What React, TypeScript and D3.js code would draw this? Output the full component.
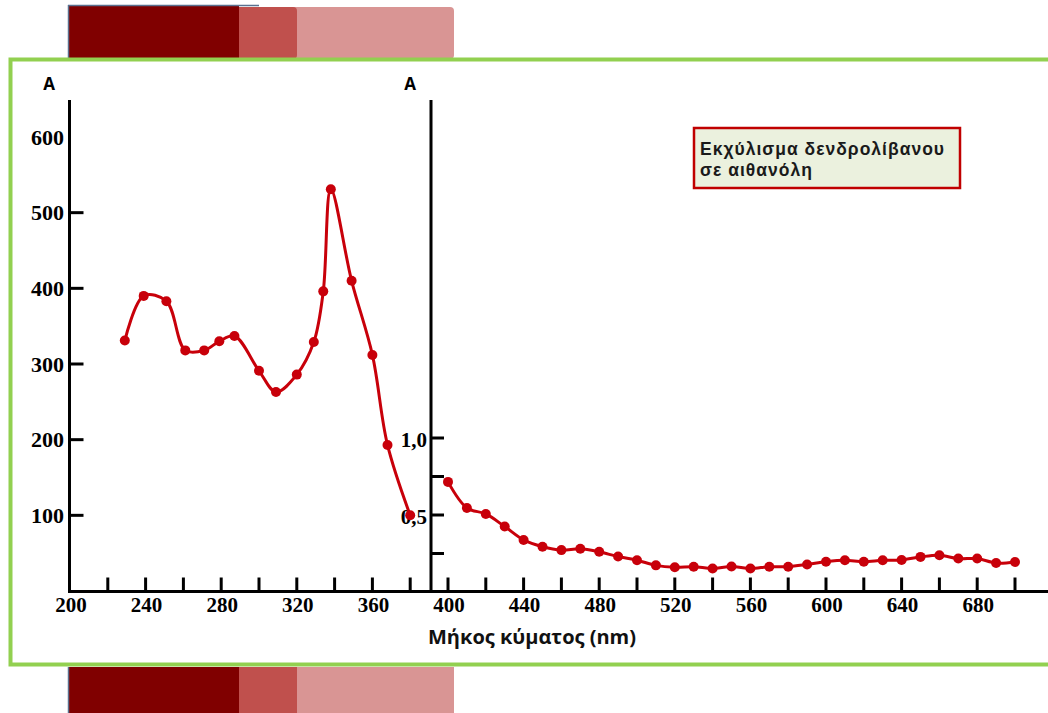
import React from "react";
import * as d3 from "d3";

const leftWavelengths = [229, 239, 251, 261, 271, 279, 287, 300, 309, 320, 329, 334, 338, 349, 360, 368, 380];
const leftValues = [331, 390, 383, 318, 318, 330, 337, 291, 263, 286, 329, 396, 531, 410, 312, 193, 100];

const rightWavelengths = [400, 410, 420, 430, 440, 450, 460, 470, 480, 490, 500, 510, 520, 530, 540, 550, 560, 570, 580, 590, 600, 610, 620, 630, 640, 650, 660, 670, 680, 690, 700];
const rightValues = [0.715, 0.546, 0.507, 0.425, 0.338, 0.294, 0.272, 0.281, 0.261, 0.23, 0.206, 0.173, 0.161, 0.164, 0.153, 0.166, 0.153, 0.164, 0.164, 0.179, 0.197, 0.206, 0.197, 0.206, 0.208, 0.228, 0.239, 0.217, 0.217, 0.188, 0.195];

const xTickLabels = [200, 240, 280, 320, 360, 400, 440, 480, 520, 560, 600, 640, 680];
const xTicksLeft = [220, 240, 260, 280, 300, 320, 340, 360, 380];
const xTicksRight = [400, 420, 440, 460, 480, 500, 520, 540, 560, 580, 600, 620, 640, 660, 680, 700];
const leftYTicks = [100, 200, 300, 400, 500];
const leftYLabels = [100, 200, 300, 400, 500, 600];
const rightYTicks = [0.25, 0.5, 0.75, 1.0];
const rightYLabels = [{ v: 1.0, t: "1,0" }, { v: 0.5, t: "0,5" }];

const legendLines = ["Εκχύλισμα δενδρολίβανου", "σε αιθανόλη"];
const xTitle = "Μήκος κύματος (nm)";

export default function App() {
  const x = d3.scaleLinear().domain([200, 700]).range([70, 1015]);
  const yL = d3.scaleLinear().domain([0, 600]).range([591, 137]);
  const yR = d3.scaleLinear().domain([0, 1]).range([592, 438]);
  const red = "#c8000a";
  const serif = "'Liberation Serif', 'Times New Roman', serif";
  const sans = "'Open Sans', 'Noto Sans', sans-serif";
  const legendFont = "'Liberation Sans', Arial, sans-serif";

  const leftPts: [number, number][] = leftWavelengths.map((w, i) => [x(w), yL(leftValues[i])]);
  const rightPts: [number, number][] = rightWavelengths.map((w, i) => [x(w), yR(rightValues[i])]);
  const line = d3.line().curve(d3.curveCatmullRom.alpha(0.5));

  const leftAxisX = 69.5;
  const rightAxisX = 431;
  const baseY = 591.5;

  return (
    <svg width={1048} height={713} style={{ position: "absolute", left: 0, top: 0, background: "#fff" }}>
      {/* decorations top */}
      <rect x={68} y={7} width={386} height={52} rx={4} fill="#d99594" />
      <rect x={68} y={7} width={229} height={52} rx={4} fill="#c0504d" />
      <rect x={68} y={5} width={171} height={54} fill="#800000" />
      <line x1={68.5} y1={5} x2={68.5} y2={59} stroke="#5a7190" strokeWidth={1.5} />
      <line x1={68} y1={5.5} x2={259} y2={5.5} stroke="#5a7190" strokeWidth={1.5} />
      {/* decorations bottom */}
      <rect x={68} y={667} width={386} height={50} fill="#d99594" />
      <rect x={68} y={667} width={229} height={50} fill="#c0504d" />
      <rect x={68} y={667} width={171} height={50} fill="#800000" />
      <line x1={68.5} y1={667} x2={68.5} y2={713} stroke="#5a7190" strokeWidth={1.5} />

      {/* green frame */}
      <rect x={10.5} y={59.5} width={1050} height={605} fill="#fff" stroke="#92d050" strokeWidth={4} />

      {/* axes */}
      <line x1={leftAxisX} y1={100} x2={leftAxisX} y2={baseY + 1.5} stroke="#000" strokeWidth={3} />
      <line x1={rightAxisX} y1={100} x2={rightAxisX} y2={baseY + 1.5} stroke="#000" strokeWidth={3} />
      <line x1={68} y1={baseY} x2={1048} y2={baseY} stroke="#000" strokeWidth={3} />

      {leftYTicks.map((v) => (
        <line key={"ly" + v} x1={leftAxisX} x2={leftAxisX + 14} y1={yL(v)} y2={yL(v)} stroke="#000" strokeWidth={3} />
      ))}
      {leftYLabels.map((v) => (
        <text key={"lyl" + v} x={64} y={yL(v)} dy="0.35em" textAnchor="end" fontFamily={serif} fontWeight="bold" fontSize={22} fill="#000">
          {v}
        </text>
      ))}
      {rightYTicks.map((v) => (
        <line key={"ry" + v} x1={rightAxisX} x2={rightAxisX + 13} y1={yR(v)} y2={yR(v)} stroke="#000" strokeWidth={3} />
      ))}
      {rightYLabels.map((d) => (
        <text key={"ryl" + d.t} x={427} y={yR(d.v) + 2} dy="0.35em" textAnchor="end" fontFamily={serif} fontWeight="bold" fontSize={21} fill="#000">
          {d.t}
        </text>
      ))}
      {[...xTicksLeft, ...xTicksRight].map((v) => (
        <line key={"xt" + v} x1={x(v)} x2={x(v)} y1={baseY} y2={baseY - 14} stroke="#000" strokeWidth={3} />
      ))}
      {xTickLabels.map((v) => (
        <text key={"xl" + v} x={x(v) + 1} y={612} textAnchor="middle" fontFamily={serif} fontWeight="bold" fontSize={21} fill="#000">
          {v}
        </text>
      ))}

      <text x={49} y={90} textAnchor="middle" fontFamily={sans} fontWeight="bold" fontSize={17} fill="#000">A</text>
      <text x={410} y={90} textAnchor="middle" fontFamily={sans} fontWeight="bold" fontSize={17} fill="#000">A</text>

      <text x={532} y={644} textAnchor="middle" fontFamily={sans} fontWeight="bold" fontSize={20} fill="#111">{xTitle}</text>

      {/* series */}
      <path d={line(leftPts) || ""} fill="none" stroke={red} strokeWidth={3} />
      {leftPts.map((p, i) => (
        <circle key={"lp" + i} cx={p[0]} cy={p[1]} r={5} fill={red} />
      ))}
      <path d={line(rightPts) || ""} fill="none" stroke={red} strokeWidth={3} />
      {rightPts.map((p, i) => (
        <circle key={"rp" + i} cx={p[0]} cy={p[1]} r={5} fill={red} />
      ))}

      {/* legend */}
      <rect x={694} y={128} width={266} height={60} fill="#ebf1de" stroke="#c00000" strokeWidth={2.5} />
      {legendLines.map((t, i) => (
        <text key={"lg" + i} x={700} y={155 + i * 21} fontFamily={legendFont} fontWeight="bold" fontSize={17.5} letterSpacing={1} fill="#1a1a1a">
          {t}
        </text>
      ))}
    </svg>
  );
}
